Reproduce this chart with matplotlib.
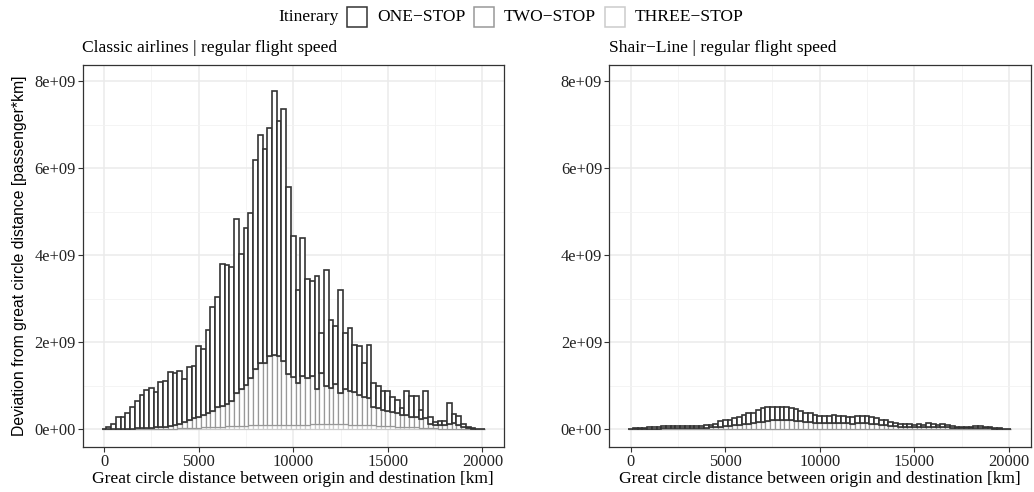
import numpy as np
import matplotlib.pyplot as plt
from matplotlib.patches import Rectangle
from matplotlib.ticker import FuncFormatter, MultipleLocator

plt.rcParams["font.family"] = ["Liberation Serif", "DejaVu Serif"]

# bin centres (binwidth 250 km)
distance_km = np.arange(0, 20001, 250)

# values in 1e9 passenger*km
classic_one = [0.01, 0.04, 0.12, 0.27, 0.27, 0.37, 0.51, 0.63, 0.76, 0.88,
               0.91, 0.82, 1.03, 1.04, 1.24, 1.20, 1.21, 0.98, 1.21, 1.21,
               1.63, 1.52, 1.91, 2.38, 2.53, 3.26, 3.20, 3.07, 4.02, 3.10,
               3.60, 3.79, 4.81, 5.22, 4.92, 5.24, 6.08, 5.40, 5.79, 4.31,
               3.24, 2.15, 3.18, 2.28, 2.18, 2.59, 0.92, 2.66, 1.55, 1.35,
               2.36, 1.30, 1.44, 1.09, 1.12, 0.77, 1.22, 0.55, 0.52, 0.43,
               0.46, 0.33, 0.32, 0.16, 0.55, 0.48, 0.48, 0.21, 0.62, 0.15,
               0.07, 0.09, 0.09, 0.48, 0.20, 0.20, 0.08, 0.02, 0.02, 0.01,
               0.01]
classic_two = [0.0, 0.0, 0.0, 0.01, 0.01, 0.01, 0.01, 0.02, 0.02, 0.03,
               0.03, 0.04, 0.045, 0.05, 0.07, 0.085, 0.11, 0.15, 0.185, 0.22,
               0.255, 0.28, 0.325, 0.37, 0.445, 0.48, 0.505, 0.58, 0.745, 0.84,
               0.94, 1.085, 1.29, 1.44, 1.425, 1.585, 1.60, 1.58, 1.47, 1.16,
               1.10, 0.95, 1.115, 1.065, 1.11, 0.81, 1.17, 0.88, 0.835, 0.915,
               0.73, 0.81, 0.775, 0.75, 0.68, 0.655, 0.63, 0.415, 0.40, 0.375,
               0.35, 0.335, 0.30, 0.275, 0.28, 0.235, 0.24, 0.205, 0.22, 0.095,
               0.08, 0.085, 0.085, 0.11, 0.13, 0.095, 0.035, 0.02, 0.01, 0.0,
               0.0]
classic_three = [0, 0, 0, 0, 0, 0, 0, 0, 0, 0,
                 0, 0, 0.005, 0.01, 0.01, 0.015, 0.02, 0.02, 0.025, 0.03,
                 0.035, 0.04, 0.045, 0.05, 0.055, 0.06, 0.065, 0.07, 0.075, 0.08,
                 0.08, 0.085, 0.09, 0.09, 0.095, 0.095, 0.10, 0.10, 0.10, 0.10,
                 0.10, 0.10, 0.105, 0.105, 0.11, 0.11, 0.11, 0.11, 0.115, 0.115,
                 0.11, 0.11, 0.105, 0.10, 0.10, 0.095, 0.09, 0.085, 0.08, 0.075,
                 0.07, 0.065, 0.06, 0.055, 0.05, 0.045, 0.04, 0.035, 0.03, 0.025,
                 0.02, 0.015, 0.015, 0.01, 0.01, 0.005, 0.005, 0, 0, 0,
                 0]

shair_one = [0.01, 0.02, 0.02, 0.02, 0.03, 0.04, 0.04, 0.05, 0.06, 0.05,
             0.05, 0.05, 0.05, 0.05, 0.05, 0.05, 0.06, 0.06, 0.08, 0.12,
             0.13, 0.14, 0.17, 0.17, 0.21, 0.24, 0.24, 0.27, 0.31, 0.31,
             0.32, 0.32, 0.32, 0.30, 0.29, 0.27, 0.24, 0.21, 0.21, 0.18,
             0.16, 0.16, 0.16, 0.17, 0.16, 0.16, 0.15, 0.15, 0.16, 0.17,
             0.16, 0.15, 0.13, 0.12, 0.11, 0.08, 0.08, 0.07, 0.06, 0.06,
             0.05, 0.07, 0.06, 0.09, 0.07, 0.06, 0.07, 0.05, 0.04, 0.03,
             0.03, 0.04, 0.04, 0.04, 0.04, 0.04, 0.02, 0.01, 0.01, 0.01,
             0.01]
shair_two = [0.0, 0.0, 0.01, 0.01, 0.01, 0.01, 0.01, 0.02, 0.02, 0.02,
             0.02, 0.02, 0.02, 0.02, 0.02, 0.025, 0.025, 0.035, 0.045, 0.055,
             0.065, 0.065, 0.085, 0.095, 0.105, 0.125, 0.13, 0.15, 0.16, 0.18,
             0.19, 0.19, 0.19, 0.19, 0.19, 0.18, 0.17, 0.16, 0.15, 0.14,
             0.14, 0.14, 0.13, 0.14, 0.13, 0.13, 0.13, 0.12, 0.13, 0.13,
             0.13, 0.12, 0.11, 0.09, 0.08, 0.07, 0.065, 0.055, 0.045, 0.045,
             0.045, 0.045, 0.035, 0.055, 0.045, 0.035, 0.035, 0.035, 0.025, 0.015,
             0.015, 0.02, 0.02, 0.03, 0.03, 0.02, 0.02, 0.01, 0.01, 0.0,
             0.0]
shair_three = [0, 0, 0, 0, 0, 0, 0, 0, 0, 0,
               0, 0, 0, 0, 0, 0.005, 0.005, 0.005, 0.005, 0.005,
               0.005, 0.005, 0.005, 0.005, 0.005, 0.005, 0.01, 0.01, 0.01, 0.01,
               0.01, 0.01, 0.01, 0.01, 0.01, 0.01, 0.01, 0.01, 0.01, 0.01,
               0.01, 0.01, 0.01, 0.01, 0.01, 0.01, 0.01, 0.01, 0.01, 0.01,
               0.01, 0.01, 0.01, 0.01, 0.01, 0.01, 0.005, 0.005, 0.005, 0.005,
               0.005, 0.005, 0.005, 0.005, 0.005, 0.005, 0.005, 0.005, 0.005, 0.005,
               0.005, 0, 0, 0, 0, 0, 0, 0, 0, 0,
               0]

itineraries = ["ONE\u2212STOP", "TWO\u2212STOP", "THREE\u2212STOP"]
colors = ["#333333", "#989898", "#CCCCCC"]
panel_titles = ["Classic airlines | regular flight speed",
                "Shair\u2212Line | regular flight speed"]

W, H = 1034, 492
fig = plt.figure(figsize=(W / 100, H / 100), dpi=100)


def px_axes(left, top, right, bottom):
    return fig.add_axes([left / W, 1 - bottom / H, (right - left) / W, (bottom - top) / H])


def draw_panel(ax, one, two, three, title):
    one = np.array(one) * 1e9
    two = np.array(two) * 1e9
    three = np.array(three) * 1e9
    ax.bar(distance_km, three, width=250, color="white", edgecolor=colors[2], linewidth=0.9, zorder=3)
    ax.bar(distance_km, two, width=250, bottom=three, color="white", edgecolor=colors[1], linewidth=0.9, zorder=4)
    ax.bar(distance_km, one, width=250, bottom=three + two, color="white", edgecolor=colors[0], linewidth=1.2, zorder=5)

    ax.set_xlim(-1137.5, 21137.5)
    ax.set_ylim(-0.41e9, 8.37e9)
    ax.xaxis.set_major_locator(MultipleLocator(5000))
    ax.xaxis.set_minor_locator(MultipleLocator(2500))
    ax.yaxis.set_major_locator(MultipleLocator(2e9))
    ax.yaxis.set_minor_locator(MultipleLocator(1e9))
    ax.yaxis.set_major_formatter(FuncFormatter(lambda v, p: f"{v:.0e}"))
    ax.grid(which="major", color="#EBEBEB", linewidth=1.1, zorder=0)
    ax.grid(which="minor", color="#F2F2F2", linewidth=0.6, zorder=0)
    ax.set_axisbelow(True)
    ax.tick_params(which="major", length=3.5, width=0.8, color="#333333",
                   labelsize=11.8, labelcolor="#222222", pad=1.5)
    ax.tick_params(which="minor", length=0)
    for s in ax.spines.values():
        s.set_color("#333333")
        s.set_linewidth(0.9)
    ax.set_xlabel("Great circle distance between origin and destination [km]",
                  fontsize=12.6, labelpad=0.5)
    ax.text(0, 1.0 + 17 / 382, title, transform=ax.transAxes, ha="left",
            va="center", fontsize=12.6)


ax1 = px_axes(82.5, 65, 504, 447)
draw_panel(ax1, classic_one, classic_two, classic_three, panel_titles[0])
ax1.set_ylabel("Deviation from great circle distance [passenger*km]",
               family=["Liberation Sans", "DejaVu Sans"], fontsize=11.3, labelpad=5)

ax2 = px_axes(609, 65, 1030.5, 447)
draw_panel(ax2, shair_one, shair_two, shair_three, panel_titles[1])

# legend on top
fig.text(278 / W, 1 - 17 / H, "Itinerary", ha="left", va="center", fontsize=12.6)
key_x = [347, 474, 605]
for kx, lab, c in zip(key_x, itineraries, colors):
    fig.add_artist(Rectangle((kx / W, 1 - 27 / H), 19.5 / W, 19.5 / H,
                             transform=fig.transFigure, facecolor="white",
                             edgecolor=c, linewidth=1.1))
    fig.text((kx + 30) / W, 1 - 17 / H, lab, ha="left", va="center", fontsize=12.6)

fig.savefig("out.png", dpi=100)
